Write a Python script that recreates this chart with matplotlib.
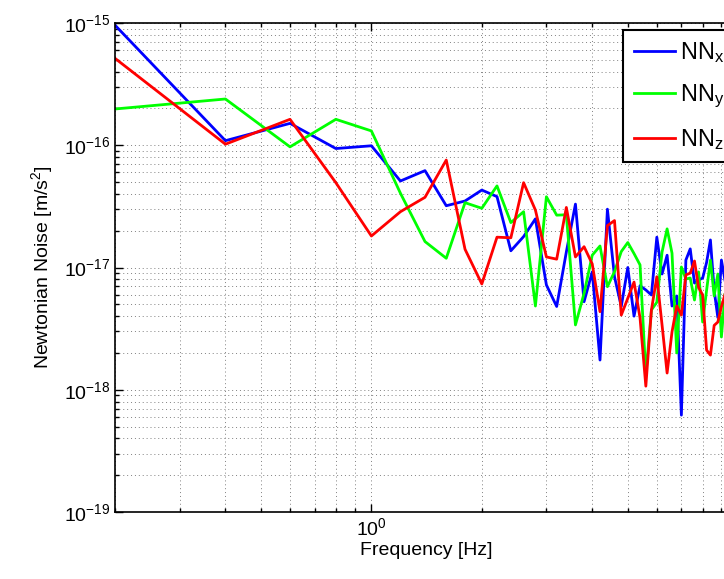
import matplotlib.pyplot as plt
from matplotlib.ticker import FixedLocator, LogLocator, NullFormatter

# frequency bins [Hz]
freq = [0.2, 0.4, 0.6, 0.8, 1.0, 1.2, 1.4, 1.6, 1.8, 2.0,
        2.2, 2.4, 2.6, 2.8, 3.0, 3.2, 3.4, 3.6, 3.8, 4.0,
        4.2, 4.4, 4.6, 4.8, 5.0, 5.2, 5.4, 5.6, 5.8, 6.0,
        6.2, 6.4, 6.6, 6.8, 7.0, 7.2, 7.4, 7.6, 7.8, 8.0,
        8.2, 8.4, 8.6, 8.8, 9.0, 9.2]

# Newtonian noise estimates [m/s^2]
nn_x = [9.6e-16, 1.09e-16, 1.51e-16, 9.4e-17, 9.9e-17, 5.1e-17, 6.2e-17, 3.2e-17, 3.5e-17, 4.3e-17,
        3.8e-17, 1.37e-17, 1.79e-17, 2.5e-17, 7.2e-18, 4.8e-18, 1.34e-17, 3.3e-17, 5.25e-18, 9.2e-18,
        1.75e-18, 3.0e-17, 8.4e-18, 4.8e-18, 1.0e-17, 4.0e-18, 7.1e-18, 6.55e-18, 5.96e-18, 1.77e-17,
        8.85e-18, 1.26e-17, 4.84e-18, 5.85e-18, 6.2e-19, 1.15e-17, 1.42e-17, 7.46e-18, 7.9e-18, 8.2e-18,
        1.1e-17, 1.68e-17, 6.5e-18, 3.9e-18, 1.15e-17, 7.9e-18]
nn_y = [1.98e-16, 2.39e-16, 9.7e-17, 1.63e-16, 1.31e-16, 4.05e-17, 1.63e-17, 1.19e-17, 3.39e-17, 3.05e-17,
        4.65e-17, 2.33e-17, 2.86e-17, 4.84e-18, 3.79e-17, 2.68e-17, 2.7e-17, 3.39e-18, 6.15e-18, 1.26e-17,
        1.5e-17, 6.97e-18, 9.24e-18, 1.35e-17, 1.6e-17, 1.3e-17, 1.05e-17, 1.32e-18, 4.49e-18, 5.2e-18,
        1.34e-17, 2.07e-17, 1.31e-17, 2.0e-18, 1.01e-17, 8.05e-18, 8.2e-18, 5.42e-18, 9.2e-18, 3.58e-18,
        6.5e-18, 1.15e-17, 5.85e-18, 8.85e-18, 2.7e-18, 6.0e-18]
nn_z = [5.14e-16, 1.02e-16, 1.63e-16, 4.94e-17, 1.81e-17, 2.86e-17, 3.75e-17, 7.57e-17, 1.41e-17, 7.33e-18,
        1.77e-17, 1.75e-17, 4.94e-17, 2.95e-17, 1.22e-17, 1.17e-17, 3.1e-17, 1.22e-17, 1.48e-17, 1.07e-17,
        4.35e-18, 2.2e-17, 2.42e-17, 4.08e-18, 5.6e-18, 7.6e-18, 3.87e-18, 1.07e-18, 4.49e-18, 8.4e-18,
        3.39e-18, 1.37e-18, 2.97e-18, 4.84e-18, 4.08e-18, 8.7e-18, 9.0e-18, 1.13e-17, 6.86e-18, 5.96e-18,
        2.11e-18, 1.92e-18, 3.36e-18, 3.58e-18, 4.78e-18, 6.0e-18]

plt.rcParams['font.family'] = ['Liberation Sans', 'DejaVu Sans']
plt.rcParams['mathtext.default'] = 'regular'

fig = plt.figure(figsize=(7.24, 5.79), dpi=100)
# axes run a little past the right edge, like the original export
ax = fig.add_axes([115 / 724, 67 / 579, 623.2 / 724, 489 / 579])

ax.loglog(freq, nn_x, color=(0, 0, 1), lw=2, label=r'NN$_{x}$')
ax.loglog(freq, nn_y, color=(0, 1, 0), lw=2, label=r'NN$_{y}$')
ax.loglog(freq, nn_z, color=(1, 0, 0), lw=2, label=r'NN$_{z}$')

ax.set_xlim(0.2, 10)
ax.set_ylim(1e-19, 1e-15)
ax.xaxis.set_major_locator(FixedLocator([1.0]))
ax.xaxis.set_minor_locator(LogLocator(base=10, subs=range(2, 10), numticks=10))
ax.yaxis.set_major_locator(FixedLocator([1e-19, 1e-18, 1e-17, 1e-16, 1e-15]))
ax.yaxis.set_minor_locator(LogLocator(base=10, subs=range(2, 10), numticks=10))
ax.yaxis.set_minor_formatter(NullFormatter())
ax.xaxis.set_minor_formatter(NullFormatter())

ax.grid(True, which='both', linestyle=(0, (1, 3)), color='#808080', lw=0.7)
ax.tick_params(which='both', direction='in', top=True, right=True, labelsize=14, width=1)
ax.tick_params(which='major', length=6)
ax.tick_params(which='minor', length=3)
for s in ax.spines.values():
    s.set_linewidth(1.2)

ax.set_xlabel('Frequency [Hz]', fontsize=14, labelpad=2)
ax.set_ylabel(r'Newtonian Noise [m/s$^{2}$]', fontsize=14, labelpad=6)

leg = ax.legend(loc='upper left', bbox_to_anchor=(0.815, 0.986), borderaxespad=0,
                fontsize=17, fancybox=False, framealpha=1, edgecolor='black',
                handlelength=1.75, handletextpad=0.2, labelspacing=0.72, borderpad=0.45)
leg.get_frame().set_linewidth(1.5)

fig.savefig('out.png', dpi=100)
